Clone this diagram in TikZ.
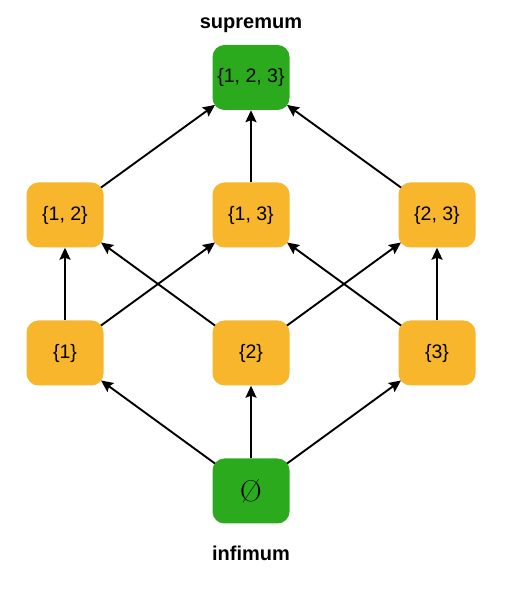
\documentclass[tikz,border=0pt]{standalone}
\usepackage{fontspec}
\setmainfont{Liberation Sans}
\newfontfamily\lmfont{Latin Modern Roman}
\usetikzlibrary{arrows.meta,calc}
\definecolor{setgreen}{RGB}{43,170,30}
\definecolor{setyellow}{RGB}{247,182,44}
\begin{document}
\begin{tikzpicture}[x=1pt,y=1pt,
  box/.style={rounded corners=12pt,minimum width=77pt,minimum height=65pt,inner sep=0pt,font=\fontsize{19.5}{22}\selectfont},
  ybox/.style={box,fill=setyellow},
  gbox/.style={box,fill=setgreen},
  lbl/.style={font=\bfseries\fontsize{20}{22}\selectfont},
  arr/.style={line width=1.9pt,-{Stealth[length=12pt,width=11pt,inset=2pt]}},
  diag/.style={arr,shorten <=11.5pt,shorten >=11.5pt}]
\useasboundingbox (0,0) rectangle (528,600);
\node[gbox] (top) at (251,522.5) {\{1, 2, 3\}};
\node[ybox] (a12) at (65,385) {\{1, 2\}};
\node[ybox] (a13) at (251,385) {\{1, 3\}};
\node[ybox] (a23) at (437,385) {\{2, 3\}};
\node[ybox] (a1) at (65,247) {\{1\}};
\node[ybox] (a2) at (251,247) {\{2\}};
\node[ybox] (a3) at (437,247) {\{3\}};
\node[gbox,font=\lmfont\fontsize{30}{32}\selectfont] (bot) at (251,109) {Ø};
\node[lbl] (sup) at (251,575) {supremum};
\node[lbl] (inf) at (251,47) {infimum};
% vertical
\draw[arr] (bot.north) -- (a2.south);
\draw[arr] (a1.north) -- (a12.south);
\draw[arr] (a3.north) -- (a23.south);
\draw[arr] (a13.north) -- (top.south);
% diagonals (corner arc centres)
\draw[diag] ($(bot.north west)+(12pt,-12pt)$) -- ($(a1.south east)+(-12pt,12pt)$);
\draw[diag] ($(bot.north east)+(-12pt,-12pt)$) -- ($(a3.south west)+(12pt,12pt)$);
\draw[diag] ($(a1.north east)+(-12pt,-12pt)$) -- ($(a13.south west)+(12pt,12pt)$);
\draw[diag] ($(a2.north west)+(12pt,-12pt)$) -- ($(a12.south east)+(-12pt,12pt)$);
\draw[diag] ($(a2.north east)+(-12pt,-12pt)$) -- ($(a23.south west)+(12pt,12pt)$);
\draw[diag] ($(a3.north west)+(12pt,-12pt)$) -- ($(a13.south east)+(-12pt,12pt)$);
\draw[diag] ($(a12.north east)+(-12pt,-12pt)$) -- ($(top.south west)+(12pt,12pt)$);
\draw[diag] ($(a23.north west)+(12pt,-12pt)$) -- ($(top.south east)+(-12pt,12pt)$);
\end{tikzpicture}
\end{document}
